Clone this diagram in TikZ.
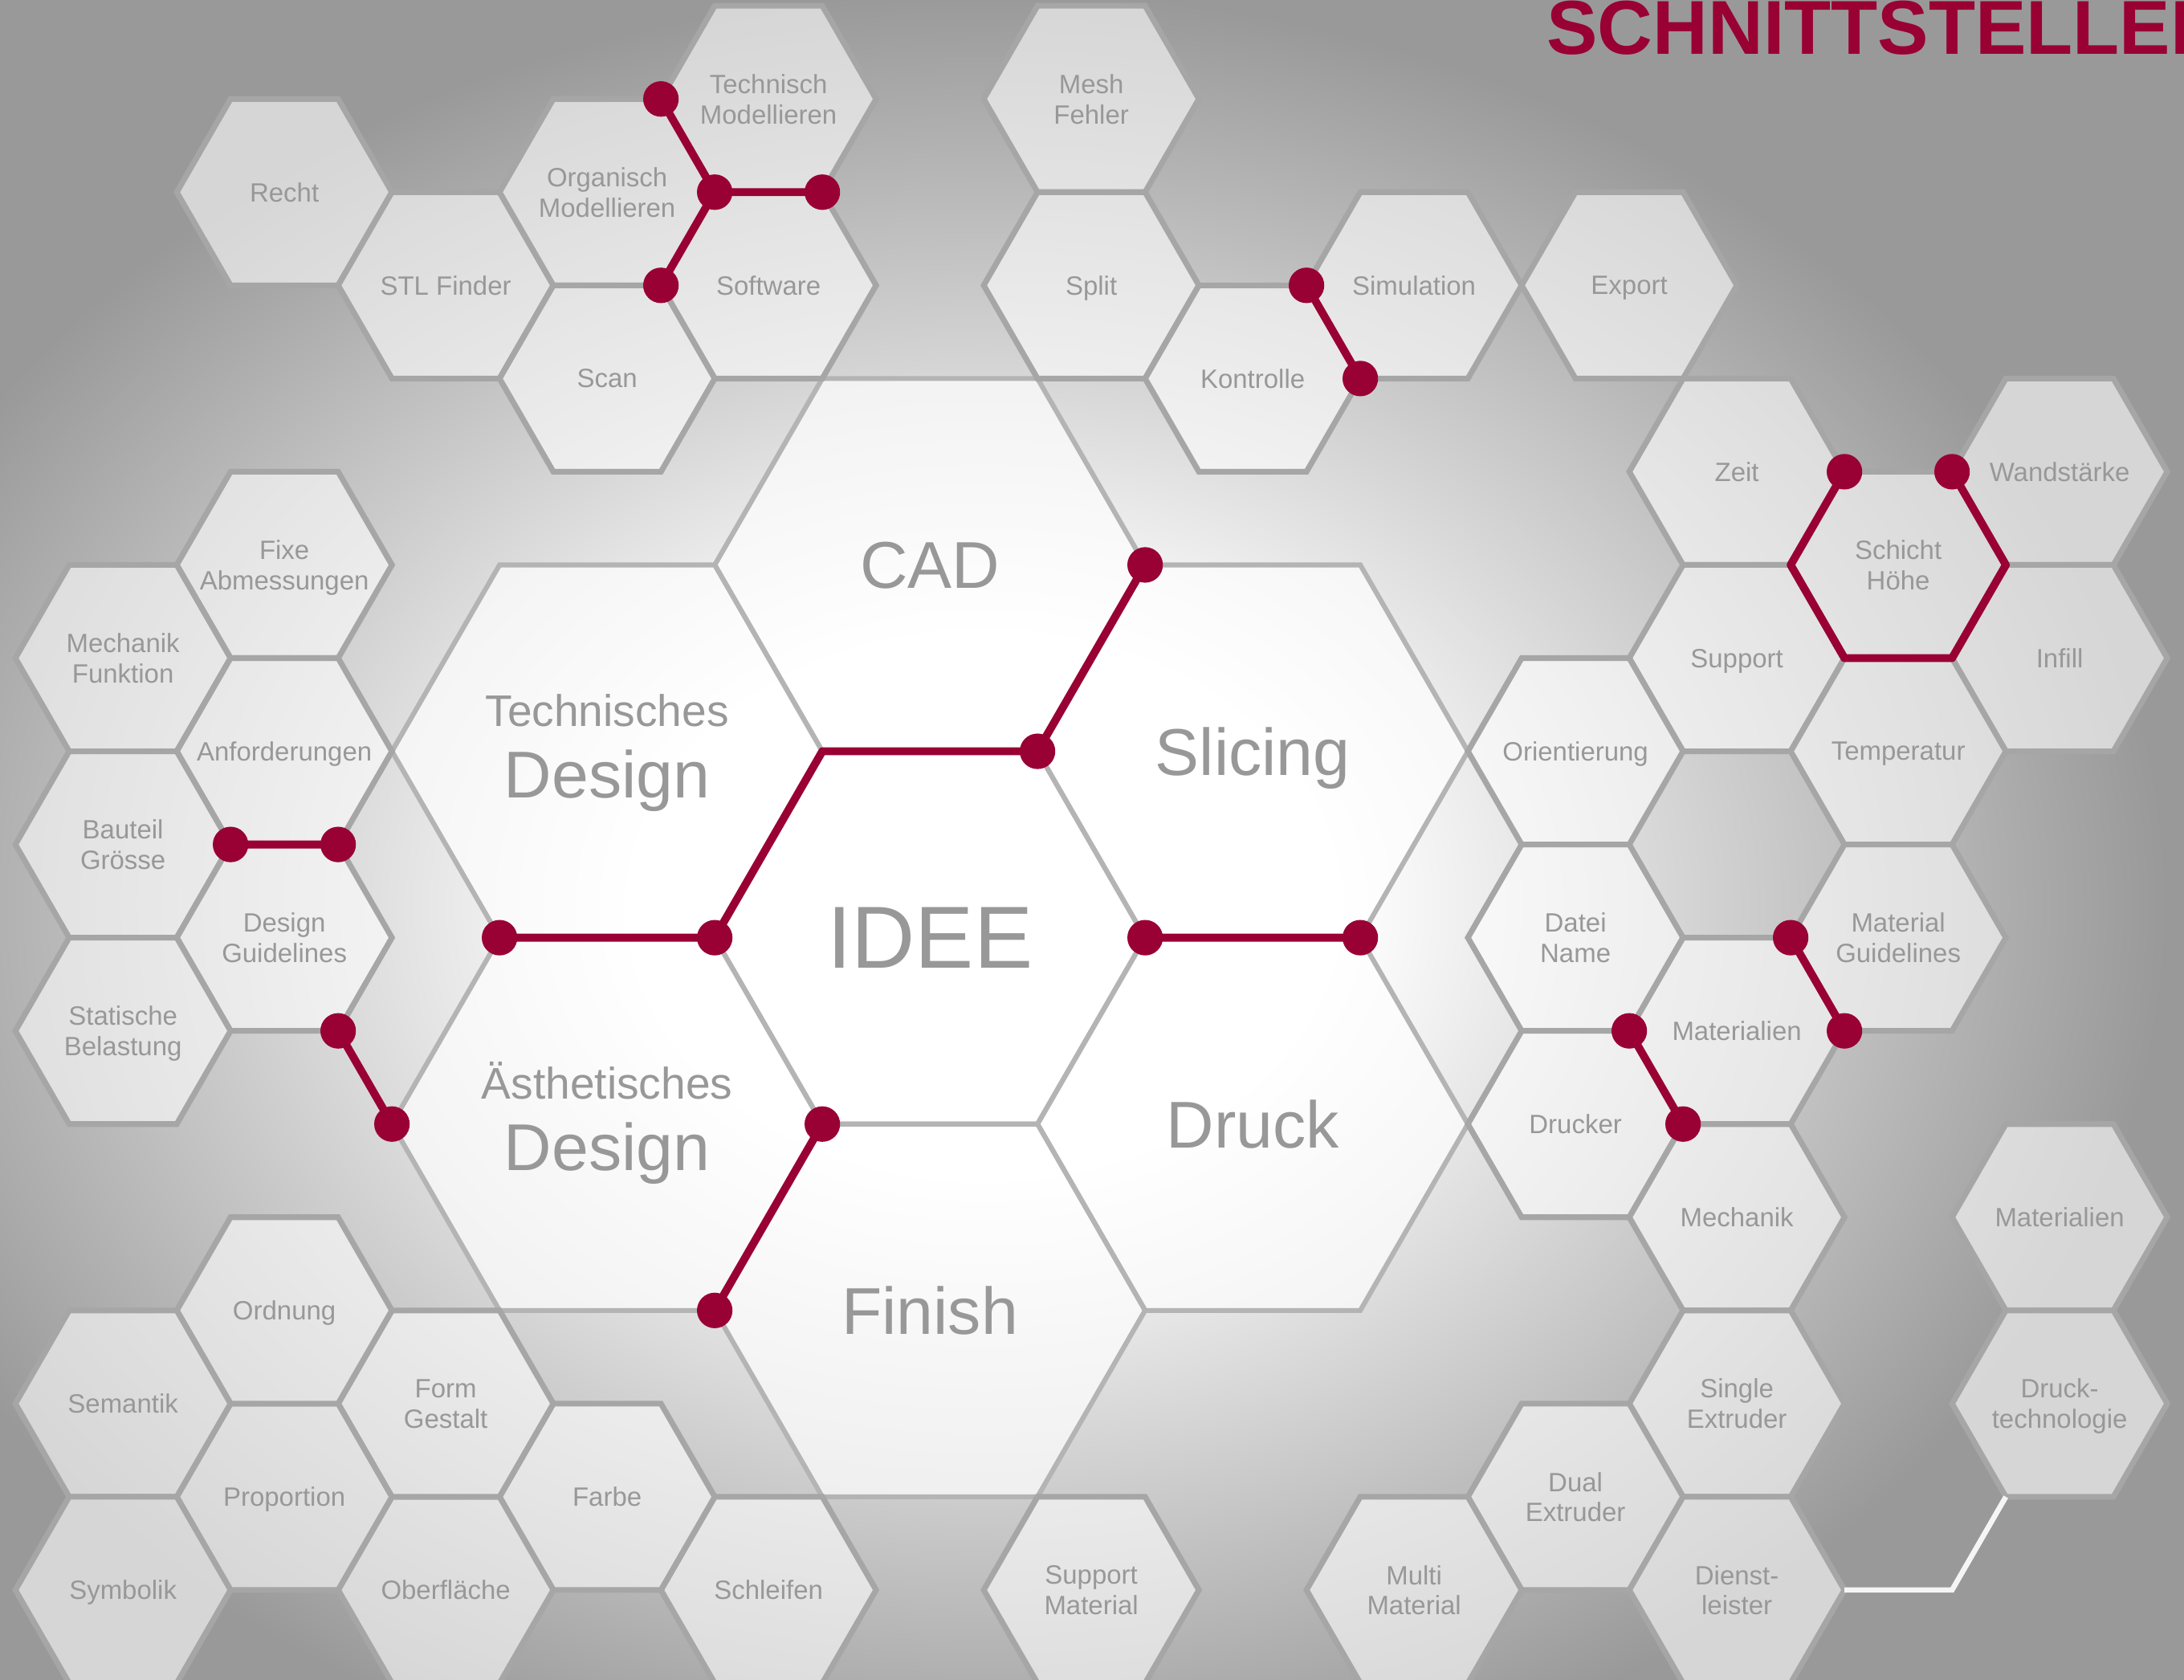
\documentclass[tikz,border=0pt]{standalone}
\usepackage{fontspec}
\setmainfont{Liberation Sans}
\usetikzlibrary{shapes.geometric}

\definecolor{schred}{RGB}{153,0,51}
\definecolor{hexline}{RGB}{166,166,166}
\definecolor{bigline}{RGB}{180,180,180}
\definecolor{txtgray}{RGB}{152,152,152}
\definecolor{bgdark}{RGB}{153,153,153}

\pgfdeclareradialshading{bglight}{\pgfpoint{0bp}{0bp}}{%
  color(0bp)=(white); color(7.5bp)=(white); color(25bp)=(bgdark); color(50bp)=(bgdark)}

\begin{document}
\begin{tikzpicture}[
  hex/.style={regular polygon, regular polygon sides=6, minimum size=2cm,
    inner xsep=-4mm, inner ysep=0pt, outer sep=0pt, draw=hexline, line width=1.5pt,
    fill=white, fill opacity=0.6, text opacity=1, text=txtgray,
    align=center, text depth=0pt, font=\fontsize{7}{8}\selectfont},
  bighex/.style={hex, minimum size=4cm, draw=bigline, line width=1.3pt,
    fill opacity=0.7, font=\fontsize{17.5}{20}\selectfont},
  bigsub/.style={inner sep=0pt, text=txtgray, font=\fontsize{11.7}{14}\selectfont},
  bigword/.style={inner sep=0pt, text=txtgray, font=\fontsize{17.5}{20}\selectfont},
  redline/.style={draw=schred, line width=2.1pt, line join=round},
  whiteline/.style={draw=white!92!gray, line width=1.4pt}
]

\useasboundingbox (-8.643,-6.898) rectangle (11.656,8.714);
\clip (-8.643,-6.898) rectangle (11.656,8.714);
\fill[bgdark] (-8.643,-6.898) rectangle (11.656,8.714);
\shade[shading=bglight] (0.5,0.3) ellipse (11 and 8.5);

% grosse Waben
\node[bighex, font=\fontsize{23.3}{26}\selectfont] (idee) at (0,0) {IDEE};
\node[bighex] (cad) at (0,3.464) {CAD};
\node[bighex] (slicing) at (3,1.732) {Slicing};
\node[bighex] (druck) at (3,-1.732) {Druck};
\node[bighex] (finish) at (0,-3.464) {Finish};
\node[bighex] (tech) at (-3,1.732) {};
\node[bighex] (aesth) at (-3,-1.732) {};
\node[bigsub, anchor=base] (techa) at ([yshift=2.3mm]tech.center) {Technisches};
\node[bigword, anchor=base] (techb) at ([yshift=-4.3mm]tech.center) {Design};
\node[bigsub, anchor=base] (aestha) at ([yshift=2.3mm]aesth.center) {Ästhetisches};
\node[bigword, anchor=base] (aesthb) at ([yshift=-4.3mm]aesth.center) {Design};

% kleine Waben oben
\node[hex] (recht) at (-6,6.928) {Recht};
\node[hex] (stl) at (-4.5,6.062) {STL Finder};
\node[hex] (organisch) at (-3,6.928) {Organisch\\Modellieren};
\node[hex] (technmod) at (-1.5,7.794) {Technisch\\Modellieren};
\node[hex] (software) at (-1.5,6.062) {Software};
\node[hex] (scan) at (-3,5.196) {Scan};
\node[hex] (mesh) at (1.5,7.794) {Mesh\\Fehler};
\node[hex] (split) at (1.5,6.062) {Split};
\node[hex] (kontrolle) at (3,5.196) {Kontrolle};
\node[hex] (simulation) at (4.5,6.062) {Simulation};
\node[hex] (export) at (6.5,6.062) {Export};

% rechts
\node[hex] (zeit) at (7.5,4.330) {Zeit};
\node[hex] (schicht) at (9,3.464) {Schicht\\Höhe};
\node[hex] (wand) at (10.5,4.330) {Wandstärke};
\node[hex] (support) at (7.5,2.598) {Support};
\node[hex] (infill) at (10.5,2.598) {Infill};
\node[hex] (orient) at (6,1.732) {Orientierung};
\node[hex] (temp) at (9,1.732) {Temperatur};
\node[hex] (datei) at (6,0) {Datei\\Name};
\node[hex] (matguide) at (9,0) {Material\\Guidelines};
\node[hex] (materialien) at (7.5,-0.866) {Materialien};
\node[hex] (drucker) at (6,-1.732) {Drucker};
\node[hex] (mechanik) at (7.5,-2.598) {Mechanik};
\node[hex] (matright) at (10.5,-2.598) {Materialien};
\node[hex] (drucktech) at (10.5,-4.330) {Druck-\\technologie};

% unten
\node[hex] (single) at (7.5,-4.330) {Single\\Extruder};
\node[hex] (dual) at (6,-5.196) {Dual\\Extruder};
\node[hex] (dienst) at (7.5,-6.062) {Dienst-\\leister};
\node[hex] (multi) at (4.5,-6.062) {Multi\\Material};
\node[hex] (suppmat) at (1.5,-6.062) {Support\\Material};
\node[hex] (schleifen) at (-1.5,-6.062) {Schleifen};
\node[hex] (farbe) at (-3,-5.196) {Farbe};
\node[hex] (oberflaeche) at (-4.5,-6.062) {Oberfläche};
\node[hex] (form) at (-4.5,-4.330) {Form\\Gestalt};
\node[hex] (proportion) at (-6,-5.196) {Proportion};
\node[hex] (ordnung) at (-6,-3.464) {Ordnung};
\node[hex] (semantik) at (-7.5,-4.330) {Semantik};
\node[hex] (symbolik) at (-7.5,-6.062) {Symbolik};

% links
\node[hex] (fixe) at (-6,3.464) {Fixe\\Abmessungen};
\node[hex] (mechfunk) at (-7.5,2.598) {Mechanik\\Funktion};
\node[hex] (anford) at (-6,1.732) {Anforderungen};
\node[hex] (bauteil) at (-7.5,0.866) {Bauteil\\Grösse};
\node[hex] (designguide) at (-6,0) {Design\\Guidelines};
\node[hex] (statisch) at (-7.5,-0.866) {Statische\\Belastung};

% Verbindungen
\draw[redline] (tech.240) -- (tech.300) -- (tech.0) -- (cad.300) -- (cad.0);
\draw[redline] (idee.0) -- (slicing.300);
\draw[redline] (idee.240) -- (finish.180);
\draw[redline] (aesth.180) -- (designguide.300);
\draw[redline] (bauteil.0) -- (designguide.60);
\draw[redline] (organisch.60) -- (organisch.0) -- (organisch.300);
\draw[redline] (organisch.0) -- (software.60);
\draw[redline] (simulation.180) -- (simulation.240);
\draw[redline] (schicht.120) -- (schicht.180) -- (schicht.240) -- (schicht.300) -- (schicht.0) -- (schicht.60);
\draw[redline] (matguide.180) -- (matguide.240);
\draw[redline] (materialien.180) -- (materialien.240);
\foreach \p in {tech.240, tech.300, cad.300, cad.0, idee.0, slicing.300,
  idee.240, finish.180, aesth.180, designguide.300, bauteil.0, designguide.60,
  organisch.60, organisch.0, organisch.300, software.60, simulation.180,
  simulation.240, schicht.120, schicht.60, matguide.180, matguide.240,
  materialien.180, materialien.240}
  \fill[schred] (\p) circle (1.65mm);

\coordinate (wknick) at (9.5,-6.062);
\draw[whiteline] (dienst.0) -- (wknick) -- (drucktech.240);

\node[anchor=base west, inner sep=0pt, text=schred,
  font=\fontsize{20.2}{24}\selectfont\bfseries] (titel) at (5.727,8.207) {SCHNITTSTELLEN};

\end{tikzpicture}
\end{document}
